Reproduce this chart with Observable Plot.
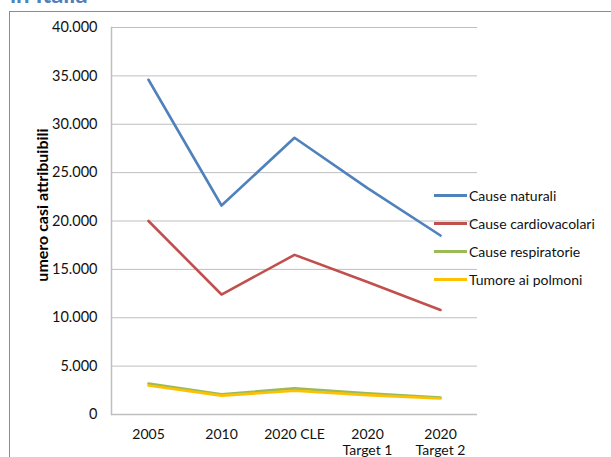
<!DOCTYPE html>
<html><head><meta charset="utf-8">
<script src="https://cdn.jsdelivr.net/npm/d3@7"></script>
<script src="https://cdn.jsdelivr.net/npm/@observablehq/plot@0.6"></script>
<style>
body{margin:0;width:611px;height:457px;overflow:hidden;position:relative;font-family:Lato,sans-serif;background:#fff}
#chart{position:absolute;left:0;top:0}
#box{position:absolute;left:9px;top:11px;width:700px;height:600px;border:1.5px solid #8c8c8c;box-sizing:border-box;pointer-events:none}
#title{position:absolute;left:10px;top:-20px;font:bold 24px Lato,sans-serif;line-height:1.2;color:#4F81BD;white-space:nowrap}
#ytitle{position:absolute;left:41px;top:205px;transform:translate(-50%,-50%) rotate(-90deg);font:bold 16px Lato,sans-serif;white-space:nowrap;color:#000}
#legend{position:absolute;left:434px;top:181px}
.row{display:flex;align-items:center;height:28px;font-size:14px;color:#111}
.sw{width:33px;height:3px;margin-right:2px}
</style>
</head><body>
<div id="chart"></div>
<div id="title">in Italia</div>
<div id="ytitle">umero casi attribuibili</div>
<div id="legend"></div>
<div id="box"></div>
<script>
const categories = ["2005", "2010", "2020 CLE", "2020\nTarget 1", "2020\nTarget 2"];
const seriesNames = ["Cause naturali", "Cause cardiovacolari", "Cause respiratorie", "Tumore ai polmoni"];
const seriesColors = ["#4F81BD", "#C0504D", "#9BBB59", "#FFC000"];
const causeNaturali = [34600, 21600, 28600, 23400, 18500];
const causeCardio = [20000, 12400, 16500, 13700, 10800];
const causeRespiratorie = [3200, 2100, 2700, 2200, 1750];
const tumorePolmoni = [3000, 1950, 2450, 2000, 1650];
const yTicks = [0, 5000, 10000, 15000, 20000, 25000, 30000, 35000, 40000];
const yLabel = "umero casi attribuibili";

const seriesValues = [causeNaturali, causeCardio, causeRespiratorie, tumorePolmoni];
const data = [];
seriesNames.forEach((s, i) => seriesValues[i].forEach((v, j) => data.push({series: s, cat: categories[j], value: v})));

const fmt = d3.formatLocale({thousands: ".", grouping: [3], decimal: ",", currency: ["", ""]}).format(",");

const chart = Plot.plot({
  width: 611, height: 457,
  marginLeft: 111, marginRight: 134, marginTop: 27, marginBottom: 43,
  style: {background: "transparent", fontFamily: "Lato, sans-serif", color: "#111"},
  x: {type: "point", domain: categories, padding: 0.5},
  y: {domain: [0, 40000]},
  color: {domain: seriesNames, range: seriesColors},
  marks: [
    Plot.gridY(yTicks, {stroke: "#bfbfbf", strokeOpacity: 1}),
    Plot.ruleY([0], {stroke: "#bfbfbf", strokeWidth: 1.5}),
    Plot.frame({anchor: "left", stroke: "#bfbfbf", strokeWidth: 1.5}),
    Plot.axisY(yTicks, {tickSize: 0, tickPadding: 14, tickFormat: fmt, label: null, fontSize: 14.5}),
    Plot.axisX({tickSize: 0, tickPadding: 13, label: null, fontSize: 14, lineHeight: 1.15}),
    Plot.line(data, {x: "cat", y: "value", z: "series", stroke: "series", strokeWidth: 2.6, strokeLinejoin: "round"})
  ]
});
document.getElementById("chart").appendChild(chart);

const legend = document.getElementById("legend");
seriesNames.forEach((s, i) => {
  const row = document.createElement("div");
  row.className = "row";
  const sw = document.createElement("div");
  sw.className = "sw";
  sw.style.background = seriesColors[i];
  row.appendChild(sw);
  const t = document.createElement("span");
  t.textContent = s;
  row.appendChild(t);
  legend.appendChild(row);
});
</script>
</body></html>
